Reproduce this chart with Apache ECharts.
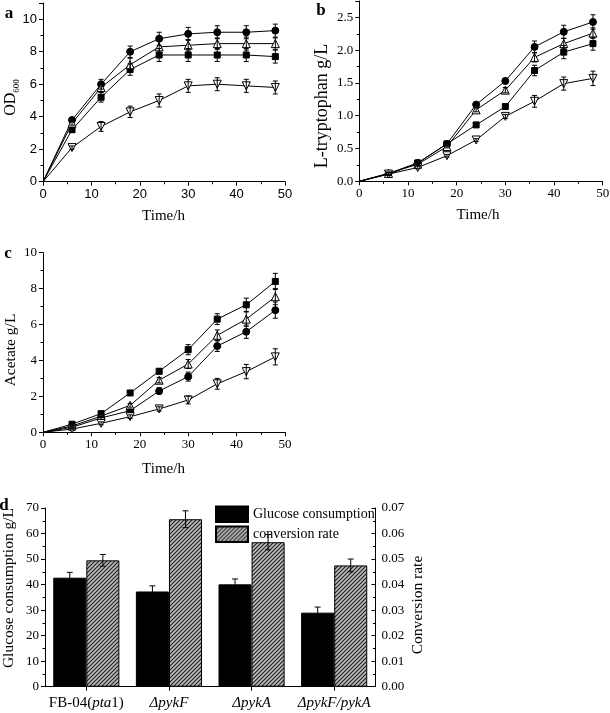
<!DOCTYPE html>
<html>
<head>
<meta charset="utf-8">
<script src="https://cdn.jsdelivr.net/npm/echarts@6/dist/echarts.min.js"></script>
<style>
  html, body { margin: 0; padding: 0; background: #fff; }
  #chart { width: 610px; height: 713px; }
</style>
</head>
<body>
<div id="chart"></div>
<script>
const timeH = [0, 6, 12, 18, 24, 30, 36, 42, 48]

// a: OD600
const odPta = [0, 3.2, 5.2, 6.9, 7.8, 7.8, 7.8, 7.8, 7.7]
const odPykF = [0, 3.8, 6.0, 8.0, 8.8, 9.1, 9.2, 9.2, 9.3]
const odPykA = [0, 3.6, 5.8, 7.2, 8.3, 8.4, 8.5, 8.5, 8.5]
const odDouble = [0, 2.1, 3.4, 4.3, 5.0, 5.9, 6.0, 5.9, 5.8]
const odPtaErr = [0, 0.15, 0.3, 0.35, 0.4, 0.4, 0.4, 0.4, 0.4]
const odPykFErr = [0, 0.12, 0.3, 0.35, 0.4, 0.4, 0.4, 0.4, 0.4]
const odPykAErr = [0, 0.12, 0.3, 0.4, 0.4, 0.35, 0.35, 0.4, 0.35]
const odDoubleErr = [0, 0.1, 0.3, 0.35, 0.4, 0.4, 0.4, 0.4, 0.4]

// b: L-tryptophan
const trpPta = [0, 0.11, 0.28, 0.57, 0.86, 1.14, 1.69, 1.97, 2.10]
const trpPykF = [0, 0.12, 0.28, 0.57, 1.17, 1.53, 2.05, 2.28, 2.43]
const trpPykA = [0, 0.12, 0.26, 0.53, 1.09, 1.39, 1.89, 2.10, 2.26]
const trpDouble = [0, 0.11, 0.21, 0.39, 0.63, 0.99, 1.22, 1.49, 1.57]
const trpPtaErr = [0, 0.02, 0.02, 0.03, 0.03, 0.04, 0.08, 0.1, 0.1]
const trpPykFErr = [0, 0.02, 0.02, 0.03, 0.03, 0.04, 0.09, 0.1, 0.11]
const trpPykAErr = [0, 0.02, 0.02, 0.02, 0.03, 0.04, 0.07, 0.08, 0.08]
const trpDoubleErr = [0, 0.02, 0.02, 0.02, 0.02, 0.03, 0.09, 0.1, 0.11]

// c: acetate
const acPta = [0, 0.45, 1.04, 2.19, 3.4, 4.6, 6.3, 7.1, 8.4]
const acPykF = [0, 0.28, 0.8, 1.2, 2.3, 3.1, 4.8, 5.6, 6.8]
const acPykA = [0, 0.35, 0.9, 1.5, 2.9, 3.8, 5.4, 6.3, 7.55]
const acDouble = [0, 0.18, 0.5, 0.87, 1.3, 1.8, 2.7, 3.38, 4.2]
const acPtaErr = [0, 0.05, 0.08, 0.1, 0.15, 0.28, 0.3, 0.37, 0.45]
const acPykFErr = [0, 0.05, 0.08, 0.1, 0.18, 0.25, 0.3, 0.37, 0.45]
const acPykAErr = [0, 0.05, 0.08, 0.1, 0.15, 0.25, 0.3, 0.4, 0.45]
const acDoubleErr = [0, 0.05, 0.08, 0.1, 0.12, 0.22, 0.3, 0.4, 0.45]

// d: glucose consumption / conversion rate
const strains = ['FB-04(pta1)', 'ΔpykF', 'ΔpykA', 'ΔpykF/pykA']
const glucose = [42.7, 37.3, 40.1, 29.0]
const glucoseErr = [2.1, 2.2, 2.1, 2.2]
const conversion = [0.0495, 0.0656, 0.0566, 0.0475]
const conversionErr = [0.0023, 0.0033, 0.003, 0.0025]

const serif = 'Liberation Serif'
const sans = 'Liberation Sans'

const mk = {
  pta: { symbol: 'rect', size: 6, fill: '#000' },
  pykF: { symbol: 'circle', size: 7, fill: '#000' },
  pykA: { symbol: 'triangle', size: 8, fill: '#fff' },
  dbl: { symbol: 'triangle', size: 8, fill: '#fff', rotate: 180 }
}

// diagonal hatch for the conversion bars
function hatch() {
  const c = document.createElement('canvas')
  c.width = 4; c.height = 4
  const g = c.getContext('2d')
  g.fillStyle = '#bcbcbc'
  g.fillRect(0, 0, 4, 4)
  g.strokeStyle = '#1e1e1e'
  g.lineWidth = 1.1
  g.beginPath()
  g.moveTo(-1, 5); g.lineTo(5, -1)
  g.moveTo(-1, 1); g.lineTo(1, -1)
  g.moveTo(3, 5); g.lineTo(5, 3)
  g.stroke()
  return c
}

function valAxis(gi, min, max, interval, font, fmt, extra) {
  return Object.assign({
    type: 'value', gridIndex: gi, min, max, interval,
    axisLine: { show: true, onZero: false, lineStyle: { color: '#000', width: 1 } },
    axisTick: { show: true, length: 4, lineStyle: { color: '#000' } },
    minorTick: { show: true, splitNumber: 2, length: 2.5, lineStyle: { color: '#000' } },
    splitLine: { show: false },
    minorSplitLine: { show: false },
    axisLabel: { color: '#000', fontFamily: font, fontSize: 13, margin: 6, formatter: fmt }
  }, extra || {})
}

function curve(name, vals, gi, sym) {
  return {
    type: 'line', name, xAxisIndex: gi, yAxisIndex: gi,
    data: timeH.map((t, i) => (i === 0 ? { value: [t, vals[i]], symbol: 'none' } : [t, vals[i]])),
    symbol: sym.symbol, symbolSize: sym.size, symbolRotate: sym.rotate || 0,
    showAllSymbol: true,
    lineStyle: { color: '#000', width: 1 },
    itemStyle: { color: sym.fill, borderColor: '#000', borderWidth: 1 },
    emphasis: { disabled: true },
    z: 2
  }
}

function errRender(cap, shift) {
  return function (params, api) {
    const x = api.value(0), y = api.value(1), e = api.value(2)
    if (!e) return null
    const dx = shift ? api.size([1, 0])[0] * shift : 0
    const hi = api.coord([x, y + e]), lo = api.coord([x, y - e])
    const cx = hi[0] + dx
    const st = { stroke: '#000', lineWidth: 1 }
    return {
      type: 'group',
      children: [
        { type: 'line', shape: { x1: cx, y1: hi[1], x2: cx, y2: lo[1] }, style: st },
        { type: 'line', shape: { x1: cx - cap, y1: hi[1], x2: cx + cap, y2: hi[1] }, style: st },
        { type: 'line', shape: { x1: cx - cap, y1: lo[1], x2: cx + cap, y2: lo[1] }, style: st }
      ]
    }
  }
}

function errSeries(vals, errs, gi) {
  return {
    type: 'custom', xAxisIndex: gi, yAxisIndex: gi,
    data: timeH.map((t, i) => [t, vals[i], errs[i]]),
    renderItem: errRender(2.5, 0),
    silent: true, z: 3
  }
}

const panels = [
  [[odPta, odPtaErr, mk.pta, 'FB-04(pta1)'], [odPykF, odPykFErr, mk.pykF, 'ΔpykF'],
   [odPykA, odPykAErr, mk.pykA, 'ΔpykA'], [odDouble, odDoubleErr, mk.dbl, 'ΔpykF/pykA']],
  [[trpPta, trpPtaErr, mk.pta, 'FB-04(pta1)'], [trpPykF, trpPykFErr, mk.pykF, 'ΔpykF'],
   [trpPykA, trpPykAErr, mk.pykA, 'ΔpykA'], [trpDouble, trpDoubleErr, mk.dbl, 'ΔpykF/pykA']],
  [[acPta, acPtaErr, mk.pta, 'FB-04(pta1)'], [acPykF, acPykFErr, mk.pykF, 'ΔpykF'],
   [acPykA, acPykAErr, mk.pykA, 'ΔpykA'], [acDouble, acDoubleErr, mk.dbl, 'ΔpykF/pykA']]
]

const series = []
panels.forEach((p, gi) => {
  p.forEach(([vals, errs, sym, name]) => {
    series.push(curve(name, vals, gi, sym))
    series.push(errSeries(vals, errs, gi))
  })
})

const hatchFill = { image: hatch(), repeat: 'repeat' }

series.push({
  type: 'bar', name: 'Glucose consumption', xAxisIndex: 3, yAxisIndex: 3,
  data: glucose, barWidth: '40%', barGap: '0%',
  itemStyle: { color: '#000', borderColor: '#000', borderWidth: 1 },
  emphasis: { disabled: true }
})
series.push({
  type: 'bar', name: 'conversion rate', xAxisIndex: 3, yAxisIndex: 4,
  data: conversion, barWidth: '40%', barGap: '0%',
  itemStyle: { color: hatchFill, borderColor: '#000', borderWidth: 1 },
  emphasis: { disabled: true }
})
series.push({
  type: 'custom', xAxisIndex: 3, yAxisIndex: 3, silent: true, z: 3,
  data: glucose.map((v, i) => [i, v, glucoseErr[i]]),
  renderItem: errRender(3, -0.2)
})
series.push({
  type: 'custom', xAxisIndex: 3, yAxisIndex: 4, silent: true, z: 3,
  data: conversion.map((v, i) => [i, v, conversionErr[i]]),
  renderItem: errRender(3, 0.2)
})

const timeAxis = (gi, font) => valAxis(gi, 0, 50, 10, font, null, {
  axisLabel: { color: '#000', fontFamily: font, fontSize: 13, margin: 6 }
})

function label(text, x, y, size, rot, extra) {
  return {
    type: 'text', x, y, rotation: rot ? Math.PI / 2 : 0,
    style: Object.assign({
      text, fill: '#000', fontFamily: serif, fontSize: size,
      align: 'center', verticalAlign: 'middle'
    }, extra || {})
  }
}

const option = {
  animation: false,
  backgroundColor: '#fff',
  grid: [
    { left: 43, top: 3, width: 242, height: 178.7, outerBoundsMode: 'none' },
    { left: 359.3, top: 1, width: 243.4, height: 180.3, outerBoundsMode: 'none' },
    { left: 43, top: 252.7, width: 242, height: 179.6, outerBoundsMode: 'none' },
    { left: 45, top: 508, width: 330.5, height: 178.7, outerBoundsMode: 'none' }
  ],
  xAxis: [
    timeAxis(0, sans),
    timeAxis(1, serif),
    timeAxis(2, serif),
    {
      type: 'category', gridIndex: 3, data: strains,
      axisLine: { lineStyle: { color: '#000' } },
      axisTick: { show: true, alignWithLabel: true, length: 4, lineStyle: { color: '#000' } },
      axisLabel: {
        color: '#000', fontFamily: serif, fontSize: 15, margin: 9, interval: 0,
        formatter: v => (v.startsWith('FB') ? v.replace('pta', '{i|pta}') : '{i|' + v + '}'),
        rich: { i: { fontStyle: 'italic', fontFamily: serif, fontSize: 15, color: '#000' } }
      }
    }
  ],
  yAxis: [
    valAxis(0, 0, 11, 2, sans, v => (v > 10 ? '' : v)),
    valAxis(1, 0, 2.75, 0.5, serif, v => (v > 2.5 ? '' : v.toFixed(1)), {}),
    valAxis(2, 0, 10, 2, serif, null),
    valAxis(3, 0, 70, 10, serif, null),
    valAxis(3, 0, 0.07, 0.01, serif, v => v.toFixed(2), {
      position: 'right',
      axisTick: { show: true, inside: true, length: 4, lineStyle: { color: '#000' } },
      minorTick: { show: true, splitNumber: 2, length: 2.5, lineStyle: { color: '#000' } }
    })
  ],
  legend: {
    left: 210, top: 500.5, orient: 'vertical',
    itemWidth: 32, itemHeight: 15.5, itemGap: 2.5,
    icon: 'rect',
    data: ['Glucose consumption', 'conversion rate'],
    textStyle: { color: '#000', fontFamily: serif, fontSize: 14 },
    selectedMode: false
  },
  graphic: [
    label('a', 9, 14, 17, false, { fontWeight: 'bold' }),
    label('b', 321, 10.5, 17, false, { fontWeight: 'bold' }),
    label('c', 8, 254, 17, false, { fontWeight: 'bold' }),
    label('d', 4, 505.5, 17, false, { fontWeight: 'bold' }),
    label('OD{s|600}', 11, 97.5, 16, true, {
      lineHeight: 20,
      rich: { s: { fontSize: 9, fontFamily: serif, verticalAlign: 'bottom', lineHeight: 10 } }
    }),
    label('Time/h', 163.5, 216, 15),
    label('L-tryptophan g/L', 322, 106, 18, true),
    label('Time/h', 478, 215, 15),
    label('Acetate g/L', 11, 350, 15.5, true),
    label('Time/h', 163.5, 469, 15),
    label('Glucose consumption g/L', 9, 588, 15.5, true),
    label('Conversion rate', 418, 605, 15.5, true)
  ],
  series
}

const chart = echarts.init(document.getElementById('chart'), null, { renderer: 'canvas' })
chart.setOption(option)
</script>
</body>
</html>
